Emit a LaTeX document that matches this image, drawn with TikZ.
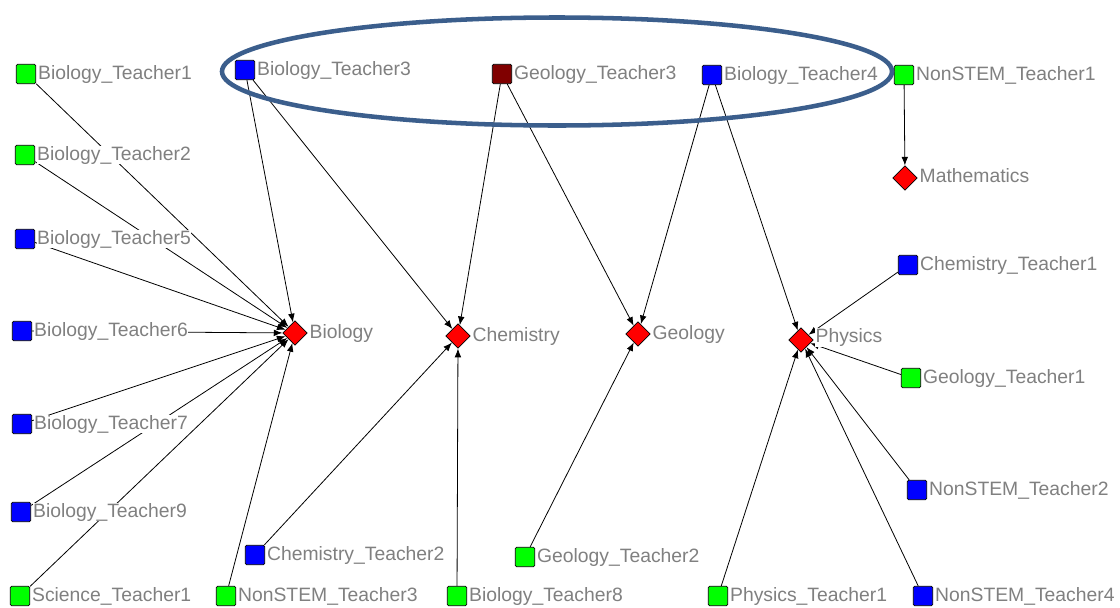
\documentclass[tikz,border=0pt]{standalone}
\usepackage{fontspec}
\setmainfont{Liberation Sans}
\usetikzlibrary{arrows.meta,shapes.geometric}
\definecolor{sqblue}{RGB}{0,0,255}
\definecolor{sqgreen}{RGB}{0,255,0}
\definecolor{sqmaroon}{RGB}{128,0,0}
\definecolor{ringblue}{RGB}{59,94,140}
\definecolor{lblgray}{RGB}{128,128,128}
\begin{document}
\begin{tikzpicture}[x=0.75pt,y=-0.75pt,
 sq/.style={draw=black, line width=0.6pt, minimum size=14.6pt, inner sep=0pt, rounded corners=1pt},
 bsq/.style={sq, fill=sqblue},
 gsq/.style={sq, fill=sqgreen},
 msq/.style={sq, fill=sqmaroon},
 subj/.style={diamond, draw=black, line width=0.5pt, fill=red, minimum size=18.5pt, inner sep=0pt},
 lbl/.style={anchor=west, fill=white, text=lblgray, inner sep=0.3pt, font=\fontsize{14.5pt}{16pt}\selectfont},
 edge/.style={draw=black, line width=0.6pt, -{Latex[length=6.5pt,width=5pt]}},
 ring/.style={draw=ringblue, line width=3.4pt}]
\fill[white] (0,0) rectangle (1120,607);
\useasboundingbox (0,0) rectangle (1120,607);

% teachers
\node[gsq] (bt1) at (26,74) {};
\node[gsq] (bt2) at (25,155) {};
\node[bsq] (bt5) at (25,239) {};
\node[bsq] (bt6) at (22,331) {};
\node[bsq] (bt7) at (22,424) {};
\node[bsq] (bt9) at (21,512) {};
\node[gsq] (st1) at (20,596) {};
\node[bsq] (bt3) at (245,70) {};
\node[msq] (gt3) at (502,74) {};
\node[bsq] (bt4) at (712,75) {};
\node[gsq] (nt1) at (904,75) {};
\node[bsq] (ct1) at (908,265) {};
\node[gsq] (gt1) at (911,378) {};
\node[bsq] (nt2) at (917,490) {};
\node[bsq] (nt4) at (923,596) {};
\node[gsq] (pt1) at (718,596) {};
\node[gsq] (gt2) at (525,557) {};
\node[gsq] (bt8) at (457,596) {};
\node[bsq] (ct2) at (255,555) {};
\node[gsq] (nt3) at (226,596) {};

% subjects
\node[subj] (bio) at (295,333) {};
\node[subj] (chem) at (458,336) {};
\node[subj] (geo) at (638,334) {};
\node[subj] (phys) at (801,340) {};
\node[subj] (math) at (905,178) {};

% edges
\draw[edge] (bt1) -- (bio);
\draw[edge] (bt2) -- (bio);
\draw[edge] (bt5) -- (bio);
\draw[edge] (bt6) -- (bio);
\draw[edge] (bt7) -- (bio);
\draw[edge] (bt9) -- (bio);
\draw[edge] (st1) -- (bio);
\draw[edge] (bt3) -- (bio);
\draw[edge] (nt3) -- (bio);
\draw[edge] (bt3) -- (chem);
\draw[edge] (ct2) -- (chem);
\draw[edge] (bt8) -- (chem);
\draw[edge] (gt3) -- (chem);
\draw[edge] (gt3) -- (geo);
\draw[edge] (bt4) -- (geo);
\draw[edge] (gt2) -- (geo);
\draw[edge] (bt4) -- (phys);
\draw[edge] (ct1) -- (phys);
\draw[edge] (gt1) -- (phys);
\draw[edge] (nt2) -- (phys);
\draw[edge] (nt4) -- (phys);
\draw[edge] (pt1) -- (phys);
\draw[edge] (nt1) -- (math);

% labels
\node[lbl] (bt1l) at ([xshift=1pt]bt1.east) {Biology\_Teacher1};
\node[lbl] (bt2l) at ([xshift=1pt]bt2.east) {Biology\_Teacher2};
\node[lbl] (bt5l) at ([xshift=1pt]bt5.east) {Biology\_Teacher5};
\node[lbl] (bt6l) at ([xshift=1pt]bt6.east) {Biology\_Teacher6};
\node[lbl] (bt7l) at ([xshift=1pt]bt7.east) {Biology\_Teacher7};
\node[lbl] (bt9l) at ([xshift=1pt]bt9.east) {Biology\_Teacher9};
\node[lbl] (st1l) at ([xshift=1pt]st1.east) {Science\_Teacher1};
\node[lbl] (bt3l) at ([xshift=1pt]bt3.east) {Biology\_Teacher3};
\node[lbl] (gt3l) at ([xshift=1pt]gt3.east) {Geology\_Teacher3};
\node[lbl] (bt4l) at ([xshift=1pt]bt4.east) {Biology\_Teacher4};
\node[lbl] (nt1l) at ([xshift=1pt]nt1.east) {NonSTEM\_Teacher1};
\node[lbl] (ct1l) at ([xshift=1pt]ct1.east) {Chemistry\_Teacher1};
\node[lbl] (gt1l) at ([xshift=1pt]gt1.east) {Geology\_Teacher1};
\node[lbl] (nt2l) at ([xshift=1pt]nt2.east) {NonSTEM\_Teacher2};
\node[lbl] (nt4l) at ([xshift=1pt]nt4.east) {NonSTEM\_Teacher4};
\node[lbl] (pt1l) at ([xshift=1pt]pt1.east) {Physics\_Teacher1};
\node[lbl] (gt2l) at ([xshift=1pt]gt2.east) {Geology\_Teacher2};
\node[lbl] (bt8l) at ([xshift=1pt]bt8.east) {Biology\_Teacher8};
\node[lbl] (ct2l) at ([xshift=1pt]ct2.east) {Chemistry\_Teacher2};
\node[lbl] (nt3l) at ([xshift=1pt]nt3.east) {NonSTEM\_Teacher3};
\node[lbl] (biol) at ([xshift=1pt]bio.east) {Biology};
\node[lbl] (cheml) at ([xshift=1pt]chem.east) {Chemistry};
\node[lbl] (geol) at ([xshift=1pt]geo.east) {Geology};
\node[lbl] (physl) at ([xshift=1pt,yshift=2pt]phys.east) {Physics};
\node[lbl] (mathl) at ([xshift=1pt,yshift=2pt]math.east) {Mathematics};

% highlight ring
\draw[ring] (557,71.5) ellipse [x radius=251.25pt, y radius=40.5pt];
\end{tikzpicture}
\end{document}
